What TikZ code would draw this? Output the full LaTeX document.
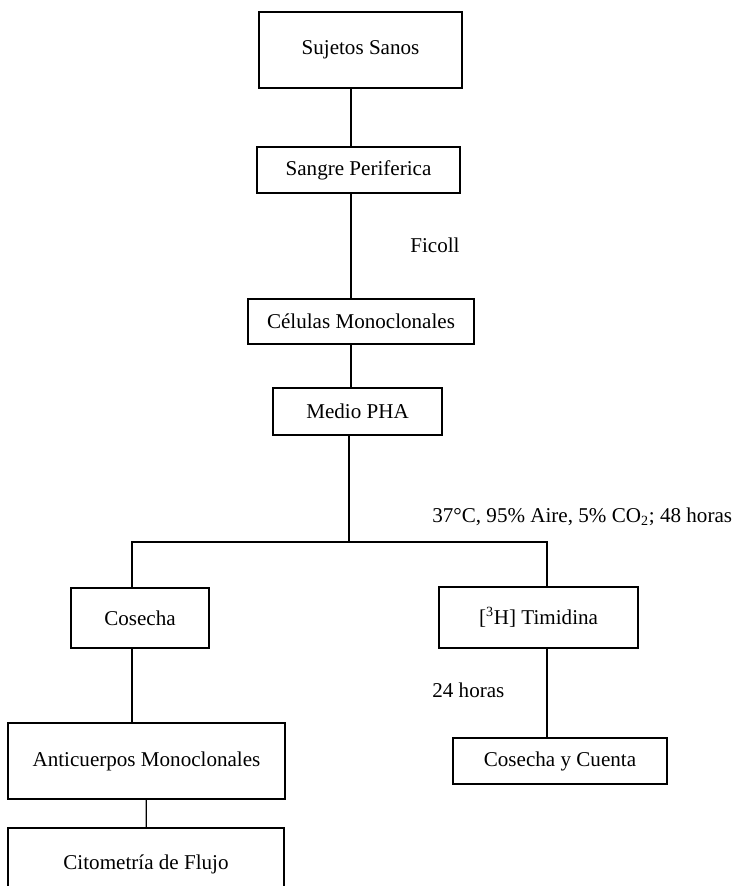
\documentclass[tikz,border=0pt]{standalone}
\usepackage{fontspec}
\setmainfont{Liberation Serif}
\usepackage{tikz}
\usetikzlibrary{positioning}

\begin{document}
\begin{tikzpicture}[
    x=0.02cm, y=-0.02cm,
    box/.style={
      draw, line width=0.7pt, rectangle, inner sep=0pt,
      font=\fontsize{12}{14}\selectfont
    },
    note/.style={
      anchor=west, inner sep=0pt,
      font=\fontsize{12}{14}\selectfont
    },
    link/.style={line width=0.7pt}
]

  \useasboundingbox (0,0) rectangle (734,886);

  % Define the boxes
  \node[box, minimum width=4.06cm, minimum height=1.52cm] (suj) at (360.5,50) {Sujetos Sanos};
  \node[box, minimum width=4.06cm, minimum height=0.92cm] (sangre) at (358.5,170) {Sangre Periferica};
  \node[box, minimum width=4.52cm, minimum height=0.90cm] (cel) at (361,321.5) {Células Monoclonales};
  \node[box, minimum width=3.38cm, minimum height=0.94cm] (medio) at (357.5,411.5) {Medio PHA};
  \node[box, minimum width=2.76cm, minimum height=1.20cm] (cosecha) at (140,618) {Cosecha};
  \node[box, minimum width=3.98cm, minimum height=1.22cm] (timid) at (538.5,617.5) {[\textsuperscript{3}H] Timidina};
  \node[box, minimum width=5.54cm, minimum height=1.52cm] (anti) at (146.5,761) {Anticuerpos Monoclonales};
  \node[box, minimum width=5.52cm, minimum height=1.44cm] (cito) at (146,864) {Citometría de Flujo};
  \node[box, minimum width=4.28cm, minimum height=0.92cm] (cuenta) at (560,761) {Cosecha y Cuenta};

  % labels
  \node[note] (ficoll) at (410,245) {Ficoll};
  \node[note] (cond) at (432,517) {37°C, 95\% Aire, 5\% CO\textsubscript{2}; 48 horas};
  \node[note] (horas) at (432,690) {24 horas};

  % branch points
  \coordinate (spine) at (351,0);
  \coordinate (split) at (349,542);
  \coordinate (bl) at (132,542);
  \coordinate (br) at (547,542);

  % Connections down the main line
  \foreach \a/\b in {suj/sangre, sangre/cel, cel/medio}
  \draw[link] (\a.south -| spine) -- (\b.north -| spine);
  \draw[link] (medio.south -| split) -- (split);

  % Connections to the two branches
  \draw[link] (cosecha.north -| bl) -- (bl) -- (br) -- (timid.north -| br);
  \draw[link] (cosecha.south -| bl) -- (anti.north -| bl);
  \draw[link] (anti) -- (cito);
  \draw[link] (timid.south -| br) -- (cuenta.north -| br);

\end{tikzpicture}
\end{document}
